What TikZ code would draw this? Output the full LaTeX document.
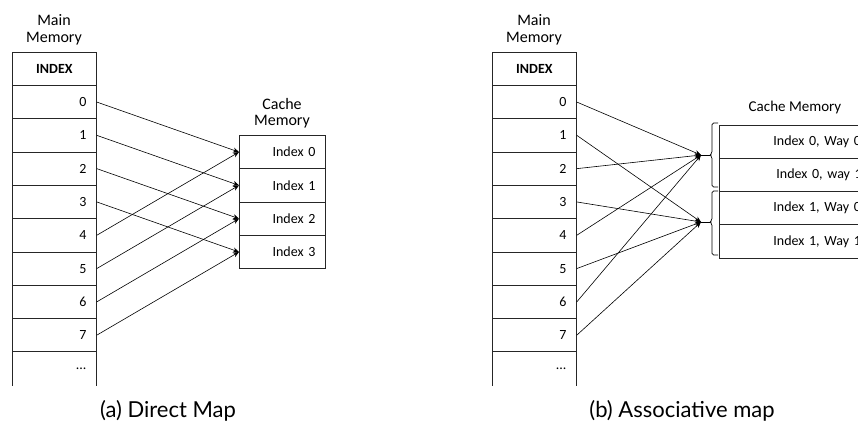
\documentclass[tikz,border=0pt]{standalone}
\usepackage{fontspec}
\setmainfont{Carlito}
\newfontfamily\capfont{Lato}
\usetikzlibrary{arrows.meta}
\begin{document}
\begin{tikzpicture}[x=1pt,y=-1pt,
  every node/.style={font=\fontsize{14}{16}\selectfont},
  title/.style={align=center,font=\fontsize{16}{16.5}\selectfont},
  cell/.style={draw=black!85,line width=0.8pt,minimum width=84pt,minimum height=33.3pt,
    text width=64pt,align=right,inner xsep=10pt,inner ysep=0pt,anchor=north west},
  headcell/.style={cell,align=center,font=\fontsize{14}{16}\selectfont\bfseries},
  opencell/.style={cell,draw=none},
  ccell/.style={cell,minimum width=85pt,text width=66pt},
  wcell/.style={cell,minimum width=160pt,text width=100pt,inner xsep=54pt,align=left},
  map/.style={line width=0.6pt,-{Stealth[length=6pt,width=5pt]}},
  brk/.style={line width=0.7pt,rounded corners=1.5pt},
  caption/.style={font=\capfont\fontsize{22}{26}\selectfont}]
\clip (0,0) rectangle (858,426);

% ---------- (a) direct mapped cache ----------
\node[title] (ta) at (54,30) {Main\\Memory};
\node[headcell] (ha) at (12,52) {INDEX};
\foreach \i in {0,...,7}{
  \node[cell] (a\i) at (12,85+33.3*\i) {\i};
}
\node[opencell] (a8) at (12,351.4) {...};
\draw[line width=0.8pt,black!85] (a8.north west) -- (a8.south west) (a8.north east) -- (a8.south east);

\node[title] (tca) at (282,113) {Cache\\Memory};
\foreach \j in {0,...,3}{
  \node[ccell] (c\j) at (239,135+33.3*\j) {Index \j};
}
\foreach \i/\j in {0/0,1/1,2/2,3/3,4/0,5/1,6/2,7/3}{
  \draw[map] (a\i.east) -- (c\j.west);
}
\node[caption] (capa) at (168,411) {(a) Direct Map};

% ---------- (b) set-associative cache ----------
\node[title] (tb) at (534,30) {Main\\Memory};
\node[headcell] (hb) at (492,52) {INDEX};
\foreach \i in {0,...,7}{
  \node[cell] (b\i) at (492,85+33.3*\i) {\i};
}
\node[opencell] (b8) at (492,351.4) {...};
\draw[line width=0.8pt,black!85] (b8.north west) -- (b8.south west) (b8.north east) -- (b8.south east);

\node[font=\fontsize{15}{16}\selectfont] (tcb) at (795,107) {Cache Memory};
\node[wcell] (w00) at (719,124.5) {Index 0, Way 0};
\node[wcell] (w01) at (719,157.8) {\hspace*{3pt}Index 0, way 1};
\node[wcell] (w10) at (719,191.1) {Index 1, Way 0};
\node[wcell] (w11) at (719,224.4) {Index 1, Way 1};

% set brackets
\coordinate (s0) at (701,155);
\coordinate (s1) at (701,222);
\coordinate (k0) at (710,155);
\coordinate (k1) at (710,222);
\draw[brk] (718,123) -- (712,123) -- (712,153) -- (k0) -- (712,157) -- (712,187) -- (718,187);
\draw[brk] (718,191) -- (712,191) -- (712,220) -- (k1) -- (712,224) -- (712,255) -- (718,255);
\draw[line width=0.7pt] (s0) -- (k0);
\draw[line width=0.7pt] (s1) -- (k1);

\foreach \i/\s in {0/0,1/1,2/0,3/1,4/0,5/1,6/0,7/1}{
  \draw[map] (b\i.east) -- (s\s);
}
\node[caption] (capb) at (682,411) {(b) Associative map};
\end{tikzpicture}
\end{document}
